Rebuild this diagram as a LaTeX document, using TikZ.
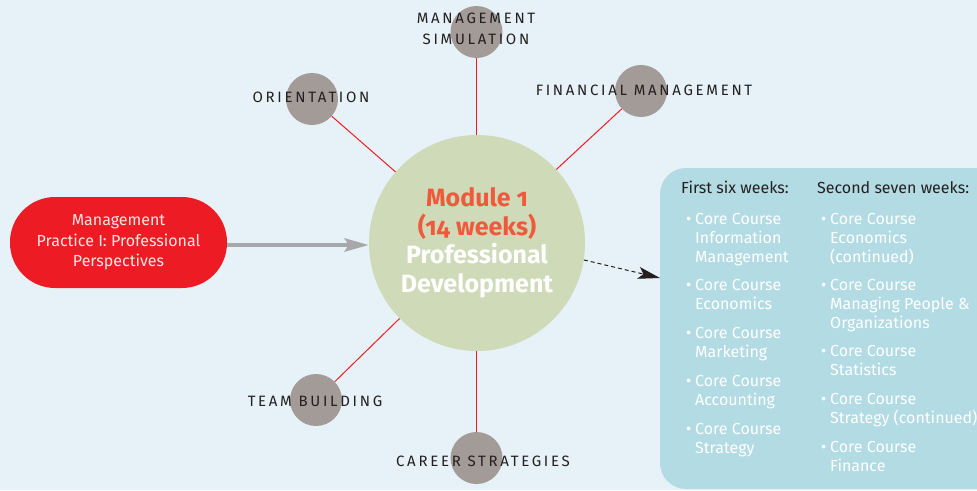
\documentclass[tikz,border=0pt]{standalone}
\usepackage{fontspec}
\setmainfont{Fira Sans}
\usetikzlibrary{arrows.meta}
\definecolor{bg}{HTML}{E6F2F7}
\definecolor{satc}{HTML}{A39B98}
\definecolor{hubc}{HTML}{CFDAB9}
\definecolor{redc}{HTML}{ED1C24}
\definecolor{bluec}{HTML}{B3DBE4}
\definecolor{grayc}{HTML}{A7A8AA}
\definecolor{titlec}{HTML}{F05A3C}
\definecolor{darkc}{HTML}{231F20}
\definecolor{pinkc}{HTML}{FDE6E4}
\tikzset{
  sat/.style={circle, fill=satc, minimum size=52pt, inner sep=0pt},
  hub/.style={circle, fill=hubc, minimum size=216pt, inner sep=0pt, align=center},
  spoke/.style={draw=redc, line width=1pt},
  lab/.style={text=darkc, inner sep=0pt, align=center, font=\fontsize{15}{21}\selectfont\addfontfeatures{LetterSpace=18}},
  redbox/.style={fill=redc, rounded corners=45pt, minimum width=217pt, minimum height=91pt, text=pinkc, align=center, font=\fontsize{16}{20.5}\selectfont},
  head/.style={text=darkc, inner sep=0pt, anchor=base west, font=\fontsize{16}{19}\selectfont},
  item/.style={text=white, inner sep=0pt, anchor=base west, align=left, font=\fontsize{16}{19}\selectfont},
}
\begin{document}
\begin{tikzpicture}[x=1pt,y=-1pt]
\fill[bg] (0,0) rectangle (977,490);
\useasboundingbox (0,0) rectangle (977,490);
\begin{scope}
\clip (0,0) rectangle (977,490);
\fill[bluec, rounded corners=26pt] (660,168) rectangle (1020,489);
\end{scope}
% hub and satellites
\node[sat] (sim) at (476.5,32) {};
\node[sat] (ori) at (312,99) {};
\node[sat] (fin) at (641,91) {};
\node[sat] (team) at (316,400) {};
\node[sat] (car) at (476.5,458) {};
\node[hub] (hub) at (477,243) {};
\draw[spoke] (hub.north -| sim) -- (sim);
\draw[spoke] (hub) -- (ori);
\draw[spoke] (hub) -- (fin);
\draw[spoke] (hub) -- (team);
\draw[spoke] (hub.south -| car) -- (car);
\node[font=\fontsize{25}{28.5}\selectfont\bfseries\addfontfeatures{Numbers=OldStyle}, align=center, inner sep=0pt] (hubtext) at (hub.center) {\textcolor{titlec}{Module 1}\\\textcolor{titlec}{(14 weeks)}\\\textcolor{white}{Professional}\\\textcolor{white}{Development}};
% labels
\node[lab] (lsim) at (476,29) {MANAGEMENT\\SIMULATION};
\node[lab] (lori) at (311,97) {ORIENTATION};
\node[lab] (lfin) at (644,90) {FINANCIAL MANAGEMENT};
\node[lab] (lteam) at (315,401) {TEAM BUILDING};
\node[lab] (lcar) at (483,461) {CAREER STRATEGIES};
% red box
\node[redbox] (mp) at (118.5,242.5) {Management\\Practice I: Professional\\Perspectives};
\draw[grayc, line width=4.5pt, -{Stealth[length=24pt, width=13pt, inset=4pt]}] (mp.east |- 0,245) -- (hub.west |- 0,245);
% dashed arrow
\coordinate (bx) at (660,278);
\draw[darkc, line width=1pt, dash pattern=on 4pt off 3pt, -{Stealth[length=22pt, width=12pt, inset=5pt]}] (hub.-9) -- (bx);
% blue box text
\node[head] (h1) at (681,193) {First six weeks:};
\node[head] (h2) at (817,193) {Second seven weeks:};
\node[item] (a1) at (695,262) {\llap{\textbullet\hspace{4pt}}Core Course\\Information\\Management};
\node[item] (a2) at (695,309) {\llap{\textbullet\hspace{4pt}}Core Course\\Economics};
\node[item] (a3) at (695,357) {\llap{\textbullet\hspace{4pt}}Core Course\\Marketing};
\node[item] (a4) at (695,405) {\llap{\textbullet\hspace{4pt}}Core Course\\Accounting};
\node[item] (a5) at (695,453) {\llap{\textbullet\hspace{4pt}}Core Course\\Strategy};
\node[item] (b1) at (830,262) {\llap{\textbullet\hspace{4pt}}Core Course\\Economics\\(continued)};
\node[item] (b2) at (830,328) {\llap{\textbullet\hspace{4pt}}Core Course\\Managing People \&\\Organizations};
\node[item] (b3) at (830,375) {\llap{\textbullet\hspace{4pt}}Core Course\\Statistics};
\node[item] (b4) at (830,423) {\llap{\textbullet\hspace{4pt}}Core Course\\Strategy (continued)};
\node[item] (b5) at (830,471) {\llap{\textbullet\hspace{4pt}}Core Course\\Finance};
\end{tikzpicture}
\end{document}
